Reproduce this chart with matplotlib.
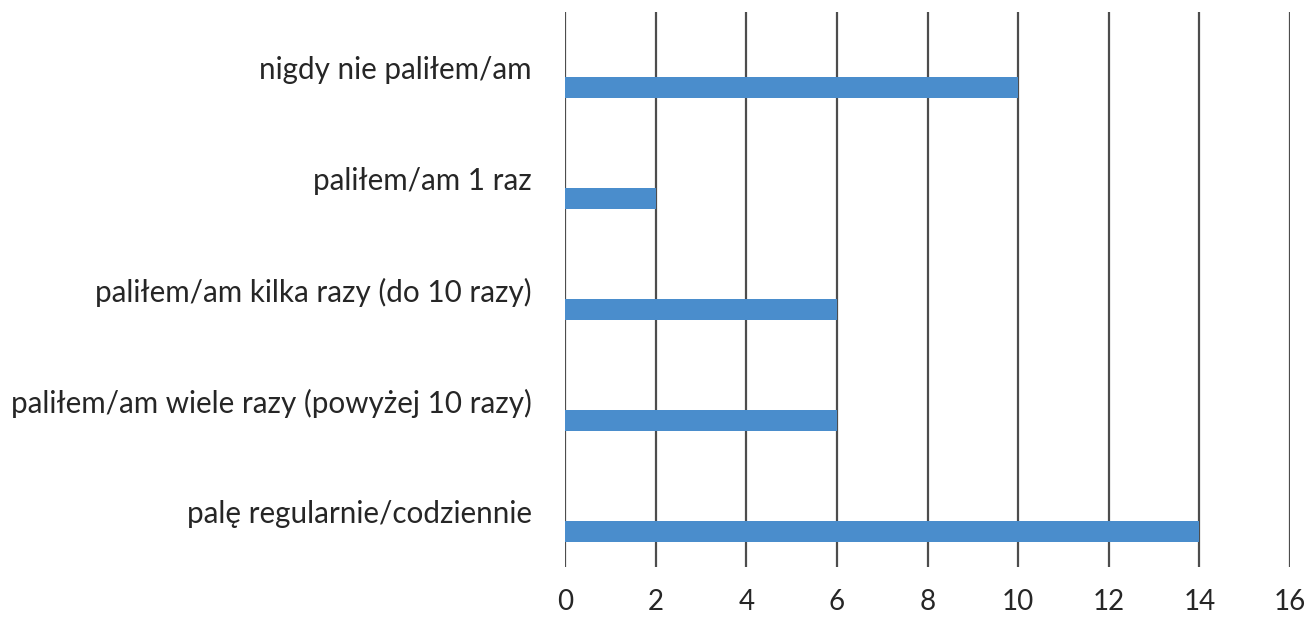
import numpy as np
import matplotlib.pyplot as plt

categories = [
    "nigdy nie paliłem/am",
    "paliłem/am 1 raz",
    "paliłem/am kilka razy (do 10 razy)",
    "paliłem/am wiele razy (powyżej 10 razy)",
    "palę regularnie/codziennie",
]
counts = [10, 2, 6, 6, 14]
x_ticks = [0, 2, 4, 6, 8, 10, 12, 14, 16]

plt.rcParams["font.family"] = ["Lato", "DejaVu Sans"]

fig = plt.figure(figsize=(13.15, 6.18), dpi=100)
ax = fig.add_axes([0.4297, 0.0825, 0.5513, 0.898])

pos = np.arange(len(categories))

# vertical grid lines
for xt in x_ticks:
    ax.axvline(xt, color="#4d4d4d", linewidth=1.6, zorder=1)

# bars sit a bit below the category label
ax.barh(pos + 0.18, counts, height=0.19, color="#4a8dcc", zorder=2)

ax.set_xlim(0, 16)
ax.set_ylim(4.5, -0.5)
ax.set_xticks(x_ticks)
ax.set_yticks(pos)
ax.set_yticklabels(categories)
ax.tick_params(axis="y", length=0, pad=24, labelsize=21.3, labelcolor="#262626")
ax.tick_params(axis="x", length=0, pad=16, labelsize=20, labelcolor="#262626")

for s in ax.spines.values():
    s.set_visible(False)

plt.savefig("out.png", dpi=100)
